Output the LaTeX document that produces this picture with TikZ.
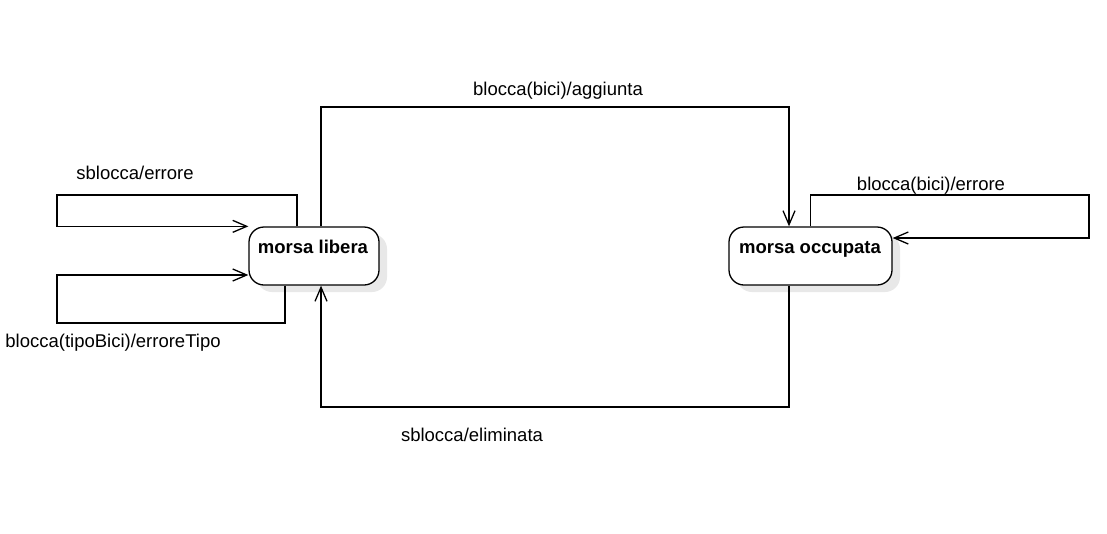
\documentclass[tikz,border=0pt]{standalone}
\usepackage{fontspec}
\setmainfont{Liberation Sans}
\usetikzlibrary{arrows.meta,calc}
\begin{document}
\begin{tikzpicture}[x=1pt,y=-1pt,
  state/.style={draw=black, line width=1.3pt, fill=white, rounded corners=15pt,
    inner sep=0pt,
    preaction={fill=black!9, draw=none, transform canvas={xshift=8pt,yshift=-7pt}}},
  stext/.style={font=\fontsize{18.5}{22}\selectfont\bfseries, anchor=base, inner sep=0pt},
  lbl/.style={font=\fontsize{18.5}{22}\selectfont, anchor=base, inner sep=0pt},
  tr/.style={draw=black, line width=1.3pt, -{Straight Barb[length=14pt,width=12pt,line width=1.3pt]}}
]
\useasboundingbox (0,0) rectangle (1107,533);
\fill[white] (0,0) rectangle (1107,533);

\node[state, minimum width=130pt, minimum height=58pt] (lib) at (314,256) {};
\node[state, minimum width=163pt, minimum height=58pt] (occ) at (810.5,256) {};
\node[stext] (libT) at (313,253.3) {morsa libera};
\node[stext] (occT) at (810,253.3) {morsa occupata};

\coordinate (c1) at (57,195);
\coordinate (c2) at (57,323);
\coordinate (c3) at (321,107);
\coordinate (c4) at (1089,195);
\coordinate (c5) at (321,407);

% sblocca/errore
\draw[tr] ($(lib.north)+(-17,0)$) |- (c1) |- (lib.north west);
% blocca(tipoBici)/erroreTipo
\draw[tr] ($(lib.south)+(-29,0)$) |- (c2) |- ($(lib.west)+(0,19)$);
% blocca(bici)/aggiunta
\draw[tr] ($(lib.north)+(7,0)$) -- (c3) -| ($(occ.north)+(-21.5,0)$);
% blocca(bici)/errore
\draw[tr] (occ.north) |- (c4) |- ($(occ.east)+(0,-18)$);
% sblocca/eliminata
\draw[tr] ($(occ.south)+(-21.5,0)$) |- (c5) -- ($(lib.south)+(7,0)$);

\node[lbl] (l1) at (135,179) {sblocca/errore};
\node[lbl] (l2) at (113,347) {blocca(tipoBici)/erroreTipo};
\node[lbl] (l3) at (558,95) {blocca(bici)/aggiunta};
\node[lbl] (l4) at (931,190) {blocca(bici)/errore};
\node[lbl] (l5) at (472,441.7) {sblocca/eliminata};
\end{tikzpicture}
\end{document}
